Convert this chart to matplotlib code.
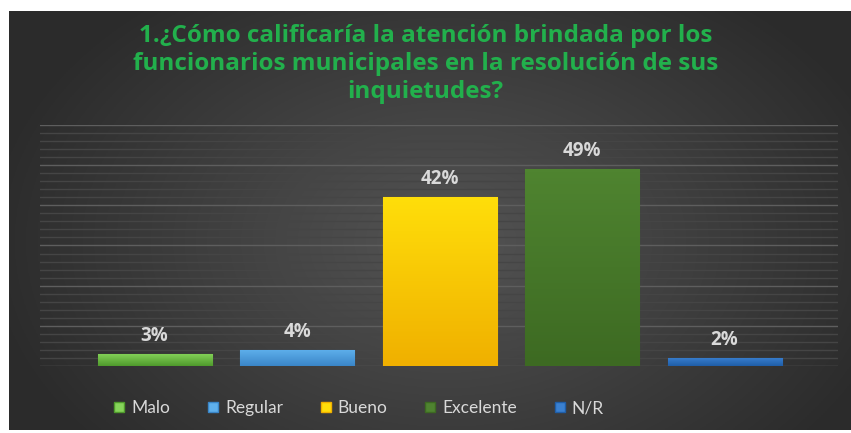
import numpy as np
import matplotlib.pyplot as plt
from matplotlib.colors import to_rgb
from matplotlib.lines import Line2D

categories = ['Malo', 'Regular', 'Bueno', 'Excelente', 'N/R']
values = [0.03, 0.04, 0.42, 0.49, 0.02]
labels = ['3%', '4%', '42%', '49%', '2%']
top_colors = ['#86d45a', '#5fb0ec', '#ffde0a', '#4f8430', '#3a80d0']
bot_colors = ['#4f9a2c', '#3a86c8', '#f0b000', '#3d6a22', '#1f5ea8']
title = ('1.¿Cómo calificaría la atención brindada por los\n'
         'funcionarios municipales en la resolución de sus\n'
         'inquietudes?')

W, H = 851, 433
fig = plt.figure(figsize=(W / 100, H / 100), dpi=100)
fig.patch.set_facecolor('white')

# background panel, radial gradient
bg = fig.add_axes([9 / W, 3 / H, (W - 9) / W, (H - 14) / H])
bg.set_axis_off()
yy, xx = np.mgrid[0:1:200j, 0:1:400j]
r = np.sqrt(((xx - 0.52) / 0.55) ** 2 + ((yy - 0.55) / 0.75) ** 2)
r = np.clip(r, 0, 1)
shade = 0.33 - 0.16 * r
bg.imshow(np.dstack([shade] * 3), aspect='auto', extent=[0, 1, 0, 1])
bg.set_xlim(0, 1)
bg.set_ylim(0, 1)

fig.text(0.5, 1 - 64 / H, title, ha='center', va='center', color='#22b04c',
         fontsize=17.5, fontweight='bold', family='Open Sans', linespacing=1.22)

ax = fig.add_axes([40 / W, 67 / H, 798 / W, 241 / H])
ax.patch.set_alpha(0)
x = np.arange(len(categories))
ax.set_xlim(-0.8035, 4.796)
ax.set_ylim(0, 0.6)

for y in np.arange(0, 0.601, 0.02):
    major = abs(y * 10 - round(y * 10)) < 1e-6
    ax.axhline(y, color='#5e5e5e' if major else '#454545', lw=1.0, zorder=0)

bars = ax.bar(x, values, width=0.8, color=top_colors, edgecolor=bot_colors,
              linewidth=0.8, zorder=2)
t = np.linspace(0, 1, 64)[:, None]
for b, c1, c2 in zip(bars, top_colors, bot_colors):
    grad = np.array(to_rgb(c1)) * (1 - t) + np.array(to_rgb(c2)) * t
    img = ax.imshow(grad[:, None, :], aspect='auto', zorder=3,
                    extent=[b.get_x(), b.get_x() + b.get_width(), 0, b.get_height()])
    img.set_clip_path(b)

for xi, v, lab in zip(x, values, labels):
    ax.annotate(lab, (xi, v), xytext=(0, 6), textcoords='offset points',
                ha='center', va='bottom', color='#d9d9d9', fontsize=13.5,
                fontweight='bold', family='Open Sans')

ax.set_xticks([])
ax.set_yticks([])
for s in ax.spines.values():
    s.set_visible(False)

handles = [Line2D([], [], marker='s', ls='', markersize=7, markerfacecolor=c,
                  markeredgecolor=e) for c, e in zip(top_colors, bot_colors)]
fig.legend(handles, categories, loc='center', ncol=5,
           bbox_to_anchor=(359 / W, 1 - 408 / H), frameon=False,
           prop={'family': 'Lato', 'size': 12.5}, labelcolor='#d9d9d9',
           handlelength=0.6, handletextpad=0.4, columnspacing=2.15)

fig.savefig('out.png', dpi=100)
